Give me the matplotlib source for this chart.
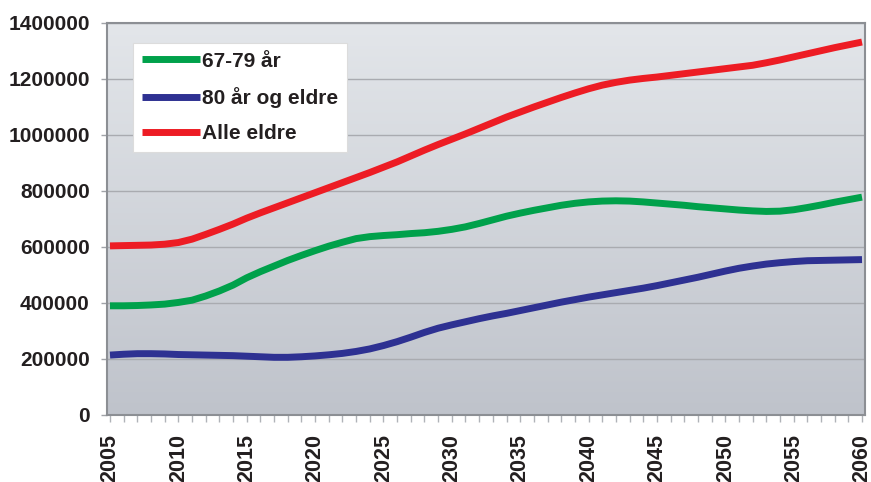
import numpy as np
import matplotlib
matplotlib.use("Agg")
import matplotlib.pyplot as plt
from matplotlib.colors import LinearSegmentedColormap

years = list(range(2005, 2061))

# thousands
alder_67_79 = [390, 390, 391, 393, 396, 402, 410, 425, 443, 464,
               490, 512, 532, 552, 570, 587, 603, 617, 630, 637,
               641, 644, 648, 651, 656, 663, 672, 684, 697, 710,
               721, 731, 740, 749, 756, 761, 764, 765, 764, 761,
               757, 753, 749, 744, 740, 736, 732, 729, 727, 728,
               733, 741, 750, 760, 769, 778]
alder_80_pluss = [214, 217, 219, 219, 218, 216, 215, 214, 213, 212,
                  210, 208, 206, 206, 208, 211, 215, 220, 227, 236,
                  248, 262, 278, 295, 310, 322, 333, 344, 354, 363,
                  373, 383, 393, 403, 412, 421, 429, 437, 445, 453,
                  462, 472, 482, 492, 503, 514, 524, 532, 539, 544,
                  548, 551, 552, 553, 554, 555]
alle_eldre = [604, 605, 606, 607, 610, 616, 628, 645, 663, 682,
              703, 722, 740, 758, 776, 794, 812, 830, 848, 866,
              885, 904, 925, 946, 966, 985, 1004, 1024, 1044, 1064,
              1082, 1100, 1117, 1134, 1150, 1165, 1178, 1188, 1196, 1202,
              1207, 1213, 1219, 1225, 1231, 1237, 1243, 1249, 1258, 1268,
              1279, 1290, 1301, 1312, 1322, 1332]

labels = ["67-79 år", "80 år og eldre", "Alle eldre"]
colors = ["#00a14b", "#2e3192", "#ed1c24"]
yticks = list(range(0, 1400001, 200000))
xticks = list(range(2005, 2061, 5))

plt.rcParams['font.family'] = ['Liberation Sans', 'DejaVu Sans']
plt.rcParams['font.weight'] = 'bold'
txt = "#231f20"

fig = plt.figure(figsize=(8.71, 4.82), dpi=100)
ax = fig.add_axes([107/871, 1-415/482, 758/871, 392/482])

# gradient background
cmap = LinearSegmentedColormap.from_list("bg", ["#bfc3cb", "#e3e6ea"])
grad = np.linspace(0, 1, 256).reshape(-1, 1)
ax.imshow(grad, aspect='auto', cmap=cmap, origin='lower',
          extent=[0, 1, 0, 1], transform=ax.transAxes, zorder=0)

for vals, lab, c in zip([alder_67_79, alder_80_pluss, alle_eldre], labels, colors):
    ax.plot(years, np.array(vals) * 1000, color=c, lw=5, label=lab,
            solid_capstyle='butt', zorder=3)

ax.set_xlim(2005 - 3/13.673, 2060 + 3/13.673)
ax.set_ylim(0, 1400000)
ax.set_yticks(yticks)
ax.set_yticklabels([str(v) for v in yticks])
ax.set_xticks(xticks)
ax.set_xticklabels([str(v) for v in xticks], rotation=90)
ax.set_xticks(years, minor=True)
ax.yaxis.grid(True, color="#a9abb0", lw=1, zorder=1)
ax.set_axisbelow(True)

ax.tick_params(axis='y', length=4.5, width=1, color="#a0a3a8", pad=8,
               labelsize=15, labelcolor=txt)
ax.tick_params(axis='x', which='both', length=5, width=1, color="#b0b3b8",
               pad=9, labelsize=15.5, labelcolor=txt)
for s in ax.spines.values():
    s.set_color("#8c8f94")
    s.set_linewidth(1.5)

leg = ax.legend(loc='upper left', bbox_to_anchor=(0.034, 0.949),
                fontsize=15, handlelength=2.8, handletextpad=0.12,
                labelspacing=0.78, borderpad=0.42, borderaxespad=0,
                frameon=True, fancybox=False, framealpha=1)
leg.get_frame().set_facecolor("white")
leg.get_frame().set_edgecolor("#dcdcdc")
leg.get_frame().set_linewidth(0.8)
for t in leg.get_texts():
    t.set_color(txt)
for h in leg.get_lines():
    h.set_linewidth(5)

fig.savefig("out.png", dpi=100)
